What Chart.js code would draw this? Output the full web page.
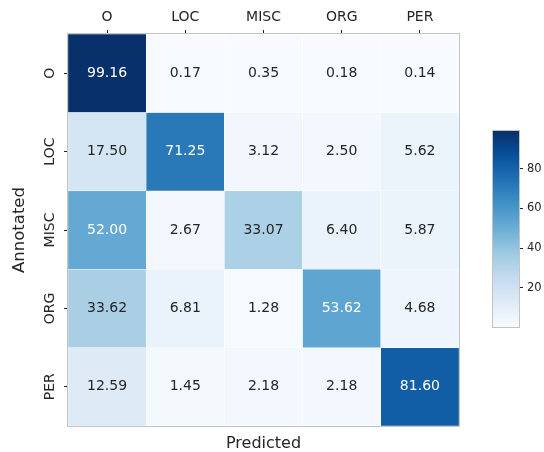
<!DOCTYPE html>
<html>
<head>
<meta charset="utf-8">
<script src="https://cdn.jsdelivr.net/npm/chart.js@4"></script>
<style>
  body { margin: 0; background: #fff; }
  #wrap { position: relative; width: 544px; height: 452px; }
  #barCanvas { position: absolute; left: 480px; top: 120px; }
</style>
</head>
<body>
<div id="wrap">
  <canvas id="myChart" width="544" height="452"></canvas>
  <canvas id="barCanvas" width="64" height="220"></canvas>
</div>
<script>
const predicted = ["O", "LOC", "MISC", "ORG", "PER"];
const annotated = ["O", "LOC", "MISC", "ORG", "PER"];
// rows = annotated, columns = predicted (row-normalised %)
const rowO = [99.16, 0.17, 0.35, 0.18, 0.14];
const rowLOC = [17.5, 71.25, 3.12, 2.5, 5.62];
const rowMISC = [52.0, 2.67, 33.07, 6.4, 5.87];
const rowORG = [33.62, 6.81, 1.28, 53.62, 4.68];
const rowPER = [12.59, 1.45, 2.18, 2.18, 81.6];
const rows = [rowO, rowLOC, rowMISC, rowORG, rowPER];
const colorbarTicks = [20, 40, 60, 80];

const vmin = Math.min(...rows.flat());
const vmax = Math.max(...rows.flat());

// matplotlib "Blues"
const blues = [
  [247, 251, 255], [222, 235, 247], [198, 219, 239], [158, 202, 225],
  [107, 174, 214], [66, 146, 198], [33, 113, 181], [8, 81, 156], [8, 48, 107],
];
function bluesRgb(t) {
  t = Math.max(0, Math.min(1, t)) * (blues.length - 1);
  const i = Math.min(Math.floor(t), blues.length - 2);
  const f = t - i;
  return blues[i].map((c, k) => c + (blues[i + 1][k] - c) * f);
}
function cellColor(v) {
  const c = bluesRgb((v - vmin) / (vmax - vmin));
  return `rgb(${c.map(Math.round).join(",")})`;
}
function textColor(v) {
  const c = bluesRgb((v - vmin) / (vmax - vmin)).map(x => {
    x /= 255;
    return x <= 0.03928 ? x / 12.92 : Math.pow((x + 0.055) / 1.055, 2.4);
  });
  const lum = 0.2126 * c[0] + 0.7152 * c[1] + 0.0722 * c[2];
  return lum > 0.408 ? "#262626" : "#ffffff";
}

const FONT = "DejaVu Sans";
const DARK = "#262626";
const centers = annotated.map((_, i) => i + 0.5);

const datasets = rows.map((row, r) => ({
  label: annotated[r],
  data: row.map(() => [r, r + 1]),
  values: row,
  backgroundColor: row.map(cellColor),
  borderColor: "#ffffff",
  borderWidth: 0.5,
  borderSkipped: false,
  grouped: false,
  barPercentage: 1,
  categoryPercentage: 1,
}));

const cellText = {
  id: "cellText",
  afterDatasetsDraw(chart) {
    const ctx = chart.ctx;
    const yScale = chart.scales.y;
    const area = chart.chartArea;
    ctx.save();
    ctx.font = `14px "${FONT}"`;
    ctx.textAlign = "center";
    ctx.textBaseline = "middle";
    chart.data.datasets.forEach((ds, r) => {
      chart.getDatasetMeta(r).data.forEach((bar, c) => {
        const v = ds.values[c];
        ctx.fillStyle = textColor(v);
        ctx.fillText(v.toFixed(2), bar.x, (bar.y + bar.base) / 2);
      });
    });
    // frame
    ctx.strokeStyle = "#c4c4c4";
    ctx.lineWidth = 1;
    ctx.strokeRect(area.left - 0.5, area.top - 0.5, area.width + 1, area.height + 1);
    // rotated row labels
    ctx.fillStyle = DARK;
    ctx.font = `14px "${FONT}"`;
    annotated.forEach((lab, i) => {
      ctx.save();
      ctx.translate(area.left - 18, yScale.getPixelForValue(i + 0.5));
      ctx.rotate(-Math.PI / 2);
      ctx.fillText(lab, 0, 0);
      ctx.restore();
    });
    ctx.restore();
  },
};

new Chart(document.getElementById("myChart"), {
  type: "bar",
  data: { labels: predicted, datasets: datasets },
  options: {
    responsive: false,
    animation: false,
    layout: { padding: { left: 0, top: 0, right: 85, bottom: 0 } },
    plugins: { legend: { display: false }, tooltip: { enabled: false } },
    scales: {
      x: {
        position: "top",
        grid: { offset: false, drawOnChartArea: false, tickLength: 4, color: DARK },
        border: { display: false },
        ticks: { color: DARK, font: { family: FONT, size: 14 }, padding: 4, maxRotation: 0 },
        afterFit(scale) { scale.height = 34; },
      },
      x2: {
        type: "linear",
        position: "bottom",
        min: 0,
        max: 5,
        grid: { display: false },
        border: { display: false },
        ticks: { display: false },
        title: {
          display: true,
          text: "Predicted",
          color: DARK,
          font: { family: FONT, size: 16, lineHeight: 1 },
          padding: { top: 0, bottom: 0 },
        },
        afterFit(scale) { scale.height = 26; },
      },
      y: {
        type: "linear",
        reverse: true,
        min: 0,
        max: 5,
        afterBuildTicks(scale) { scale.ticks = centers.map(v => ({ value: v })); },
        grid: { drawOnChartArea: false, tickLength: 4, color: DARK },
        border: { display: false },
        ticks: { display: false },
        title: {
          display: true,
          text: "Annotated",
          color: DARK,
          font: { family: FONT, size: 16.5 },
          padding: { top: 10, bottom: 0 },
        },
        afterFit(scale) { scale.width = 68; },
      },
    },
  },
  plugins: [cellText],
});

// colour bar
const barFrame = {
  id: "barFrame",
  afterDatasetsDraw(chart) {
    const a = chart.chartArea;
    const ctx = chart.ctx;
    ctx.save();
    ctx.strokeStyle = "#c4c4c4";
    ctx.lineWidth = 1;
    ctx.strokeRect(a.left - 0.5, a.top - 0.5, a.width + 1, a.height + 1);
    ctx.restore();
  },
};

new Chart(document.getElementById("barCanvas"), {
  type: "bar",
  data: {
    labels: [""],
    datasets: [{
      data: [[vmin, vmax]],
      barPercentage: 1,
      categoryPercentage: 1,
      borderWidth: 0,
      backgroundColor(context) {
        const area = context.chart.chartArea;
        if (!area) return null;
        const g = context.chart.ctx.createLinearGradient(0, area.bottom, 0, area.top);
        blues.forEach((c, i) => g.addColorStop(i / (blues.length - 1), `rgb(${c.join(",")})`));
        return g;
      },
    }],
  },
  options: {
    responsive: false,
    animation: false,
    layout: { padding: { left: 13, top: 11, right: 0, bottom: 13 } },
    plugins: { legend: { display: false }, tooltip: { enabled: false } },
    scales: {
      x: { display: false },
      y: {
        position: "right",
        min: vmin,
        max: vmax,
        afterBuildTicks(scale) { scale.ticks = colorbarTicks.map(v => ({ value: v })); },
        grid: { drawOnChartArea: false, tickLength: 4, color: DARK },
        border: { display: false },
        ticks: { color: DARK, font: { family: FONT, size: 11.5 }, padding: 4 },
        afterFit(scale) { scale.width = 25; },
      },
    },
  },
  plugins: [barFrame],
});
</script>
</body>
</html>
